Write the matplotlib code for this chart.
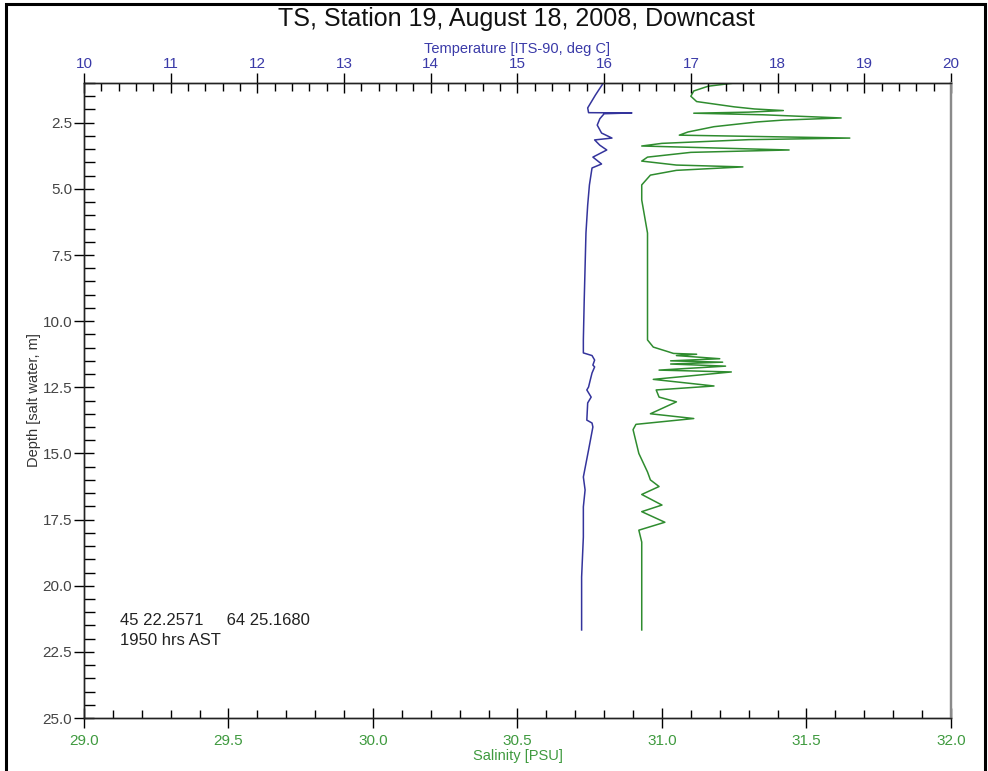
import matplotlib
matplotlib.use('Agg')
import matplotlib.pyplot as plt
from matplotlib.ticker import MultipleLocator, FormatStrFormatter
from matplotlib.patches import Rectangle

# CTD downcast profiles: depth (m) against temperature and salinity
depth_temp = [1.00, 1.45, 1.94, 2.12, 2.13, 2.16, 2.35, 2.59, 2.89, 3.08, 3.15, 3.35, 3.53,
              3.80, 4.06, 4.21, 4.85, 5.61, 6.67, 7.95, 9.20, 10.71, 11.20, 11.25, 11.30,
              11.47, 11.66, 11.73, 11.96, 12.22, 12.49, 12.60, 12.87, 13.09, 13.74, 13.85,
              14.00, 14.87, 15.89, 16.38, 17.02, 18.16, 19.67, 21.67]
temperature = [15.99, 15.90, 15.81, 15.82, 16.32, 16.00, 15.95, 15.92, 15.97, 16.09, 15.89,
               15.95, 16.03, 15.87, 15.97, 15.86, 15.83, 15.81, 15.79, 15.78, 15.77, 15.76,
               15.76, 15.81, 15.86, 15.89, 15.87, 15.89, 15.86, 15.84, 15.82, 15.80, 15.85,
               15.81, 15.80, 15.86, 15.87, 15.82, 15.76, 15.78, 15.76, 15.76, 15.74, 15.74]

depth_sal = [1.00, 1.12, 1.30, 1.50, 1.70, 1.90, 1.98, 2.04, 2.10, 2.14, 2.20, 2.32, 2.40,
             2.47, 2.65, 2.85, 2.97, 3.08, 3.14, 3.28, 3.38, 3.53, 3.62, 3.80, 3.95, 4.10,
             4.17, 4.30, 4.48, 4.85, 5.42, 6.67, 7.95, 10.71, 10.98, 11.15, 11.22, 11.25,
             11.30, 11.42, 11.50, 11.55, 11.62, 11.70, 11.85, 11.92, 12.20, 12.45, 12.60,
             12.87, 13.05, 13.50, 13.68, 13.90, 14.10, 15.00, 15.70, 16.00, 16.25, 16.55,
             16.95, 17.20, 17.60, 17.90, 18.35, 19.70, 21.67]
salinity = [31.25, 31.16, 31.11, 31.10, 31.12, 31.25, 31.32, 31.42, 31.30, 31.11, 31.35,
            31.62, 31.42, 31.33, 31.18, 31.09, 31.06, 31.65, 31.30, 31.00, 30.93, 31.44,
            31.10, 30.95, 30.93, 31.05, 31.28, 31.05, 30.96, 30.93, 30.93, 30.95, 30.95,
            30.95, 30.97, 31.02, 31.04, 31.12, 31.05, 31.20, 31.03, 31.21, 31.03, 31.22,
            30.99, 31.24, 30.97, 31.18, 30.98, 30.99, 31.05, 30.96, 31.11, 30.91, 30.90,
            30.92, 30.95, 30.96, 30.99, 30.93, 31.00, 30.93, 31.01, 30.92, 30.93, 30.93,
            30.93]

blue = '#34349c'
green = '#2f8c2f'
blue_txt = '#3a3aa8'
green_txt = '#3f9a3f'
font = 'Liberation Sans'

fig = plt.figure(figsize=(9.88, 7.71), dpi=100)
ax = fig.add_axes([0.085, 0.0687, 0.8775, 0.8236])

# salinity on the bottom axis
ax.plot(salinity, depth_sal, color=green, lw=1.1)
ax.set_xlim(29.0, 32.0)
ax.set_ylim(25.0, 1.0)
ax.xaxis.set_major_locator(MultipleLocator(0.5))
ax.xaxis.set_minor_locator(MultipleLocator(0.1))
ax.yaxis.set_major_locator(MultipleLocator(2.5))
ax.yaxis.set_minor_locator(MultipleLocator(0.5))
ax.xaxis.set_major_formatter(FormatStrFormatter('%.1f'))
ax.yaxis.set_major_formatter(FormatStrFormatter('%.1f'))
ax.tick_params(axis='x', which='major', direction='inout', length=15, width=1,
               labelcolor=green_txt, labelsize=11, pad=4)
ax.tick_params(axis='x', which='minor', direction='in', length=6, width=1)
ax.tick_params(axis='y', which='major', direction='inout', length=15, width=1,
               labelcolor='#444444', labelsize=11, pad=1)
ax.tick_params(axis='y', which='minor', direction='in', length=8, width=1)
for lab in ax.get_xticklabels() + ax.get_yticklabels():
    lab.set_family(font)
ax.set_xlabel('Salinity [PSU]', color=green_txt, fontsize=10.5, family=font, labelpad=1)
ax.set_ylabel('Depth [salt water, m]', color='#333333', fontsize=10.5, family=font, labelpad=1)

# temperature on the top axis
axt = ax.twiny()
axt.plot(temperature, depth_temp, color=blue, lw=1.1)
axt.set_xlim(10, 20)
axt.xaxis.set_major_locator(MultipleLocator(1))
axt.xaxis.set_minor_locator(MultipleLocator(0.2))
axt.tick_params(axis='x', which='major', direction='inout', length=15, width=1,
                labelcolor=blue_txt, labelsize=11, pad=1)
axt.tick_params(axis='x', which='minor', direction='in', length=6, width=1)
for lab in axt.get_xticklabels():
    lab.set_family(font)
axt.set_xlabel('Temperature [ITS-90, deg C]', color=blue_txt, fontsize=10.5, family=font,
               labelpad=3)

for a in (ax, axt):
    a.spines['right'].set_color('#8a8a8a')
    a.spines['right'].set_linewidth(1.6)
    for s in ('left', 'top', 'bottom'):
        a.spines[s].set_color('#222222')
        a.spines[s].set_linewidth(1.0)

fig.text(0.523, 0.975, 'TS, Station 19, August 18, 2008, Downcast', ha='center', va='center',
         fontsize=18, family=font, color='#111111')

ax.text(0.041, 0.153, '45 22.2571     64 25.1680', transform=ax.transAxes, fontsize=12,
        family=font, color='#222222', va='center')
ax.text(0.041, 0.122, '1950 hrs AST', transform=ax.transAxes, fontsize=12,
        family=font, color='#222222', va='center')

# frame around the whole figure
fig.patches.append(Rectangle((0.006, -0.01), 0.991, 1.005, transform=fig.transFigure,
                             fill=False, edgecolor='black', linewidth=2.2))

fig.savefig('out.png', dpi=100)
